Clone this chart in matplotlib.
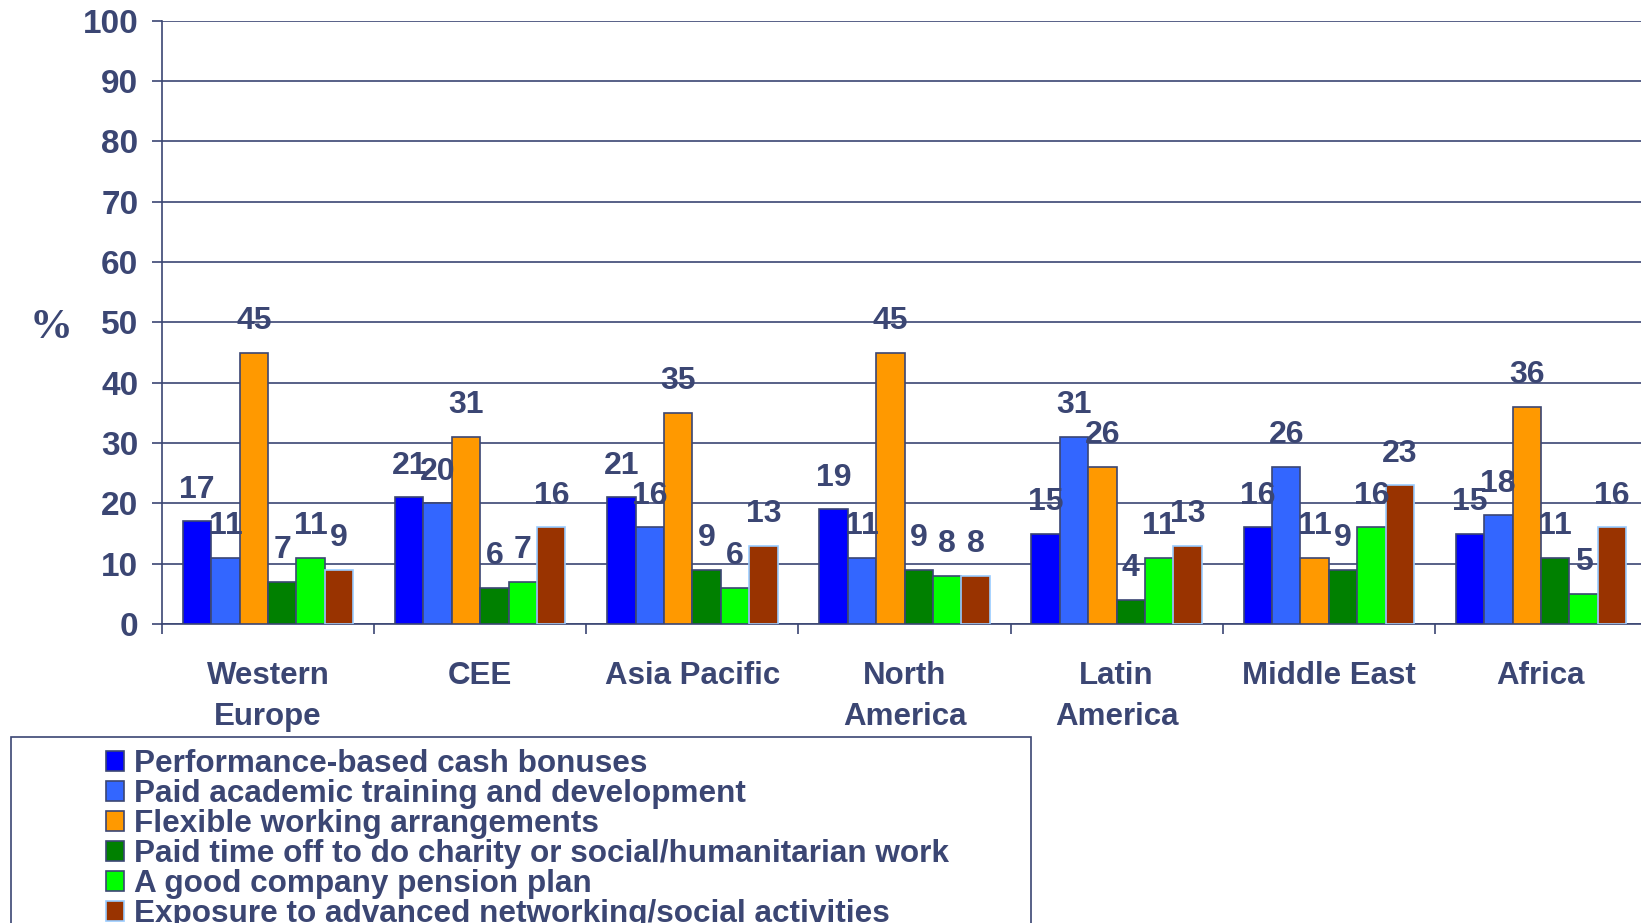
import numpy as np
import matplotlib
matplotlib.use('Agg')
import matplotlib.pyplot as plt
from matplotlib.patches import Rectangle

plt.rcParams['font.family'] = ['Liberation Sans', 'DejaVu Sans']
plt.rcParams['font.weight'] = 'bold'

# Data
regions = ['Western\nEurope', 'CEE', 'Asia Pacific', 'North\nAmerica',
           'Latin\nAmerica', 'Middle East', 'Africa']
series = ['Performance-based cash bonuses',
          'Paid academic training and development',
          'Flexible working arrangements',
          'Paid time off to do charity or social/humanitarian work',
          'A good company pension plan',
          'Exposure to advanced networking/social activities']
cash_bonus = [17, 21, 21, 19, 15, 16, 15]
academic = [11, 20, 16, 11, 31, 26, 18]
flexible = [45, 31, 35, 45, 26, 11, 36]
charity = [7, 6, 9, 9, 4, 9, 11]
pension = [11, 7, 6, 8, 11, 16, 5]
networking = [9, 16, 13, 8, 13, 23, 16]
values = [cash_bonus, academic, flexible, charity, pension, networking]

colors = ['#0000FF', '#3366FF', '#FF9900', '#008000', '#00FF00', '#993300']
edges = ['#3B4673'] * 5 + ['#99CCFF']
navy = '#3B4673'

W, H = 1641, 923
fig = plt.figure(figsize=(W / 100, H / 100), dpi=100)
ax = fig.add_axes([162 / W, (H - 624) / H, 1485 / W, 603.3 / H])

x = np.arange(len(regions)) + 0.5
w = 0.134
for j, vals in enumerate(values):
    bars = ax.bar(x + (j - 2.5) * w, vals, w, color=colors[j],
                  edgecolor=edges[j], linewidth=1.2, label=series[j], zorder=3)
    ax.bar_label(bars, padding=12, fontsize=23, color=navy, fontweight='bold', zorder=4)

ax.set_xlim(0, len(regions))
ax.set_ylim(0, 100)
ax.set_yticks(np.arange(0, 101, 10))
ax.yaxis.grid(True, color=navy, linewidth=1.2)
ax.set_axisbelow(True)
ax.tick_params(axis='y', length=7, width=1.2, color=navy, pad=10,
               labelsize=24, labelcolor=navy)

ax.set_xticks(np.arange(0, len(regions) + 1))
ax.set_xticklabels([])
ax.set_xticks(x, minor=True)
ax.set_xticklabels(regions, minor=True, linespacing=1.45)
ax.tick_params(axis='x', which='major', length=7, width=1.2, color=navy)
ax.tick_params(axis='x', which='minor', length=0, pad=27, labelsize=22.5,
               labelcolor=navy)

for s in ['top', 'right']:
    ax.spines[s].set_visible(False)
for s in ['left', 'bottom']:
    ax.spines[s].set_color(navy)
    ax.spines[s].set_linewidth(1.2)

fig.text(51 / W, 1 - 328 / H, '%', fontsize=31, color=navy,
         family='Liberation Serif', fontweight='bold', ha='center', va='center')

# legend box
fig.add_artist(Rectangle((10.7 / W, -0.05), (1031 - 10.7) / W, (H - 737) / H + 0.05,
                         transform=fig.transFigure, fill=False,
                         edgecolor=navy, linewidth=1.2, clip_on=False))
handles, labels = ax.get_legend_handles_labels()
leg = fig.legend(handles, labels, loc='upper left',
                 bbox_to_anchor=(106 / W, 1 - 749 / H), frameon=False,
                 fontsize=22.7, handlelength=0.57, handleheight=0.57,
                 handletextpad=0.33, labelspacing=0.0,
                 borderpad=0, borderaxespad=0)
for t in leg.get_texts():
    t.set_color(navy)

fig.savefig('out.png', dpi=100)
